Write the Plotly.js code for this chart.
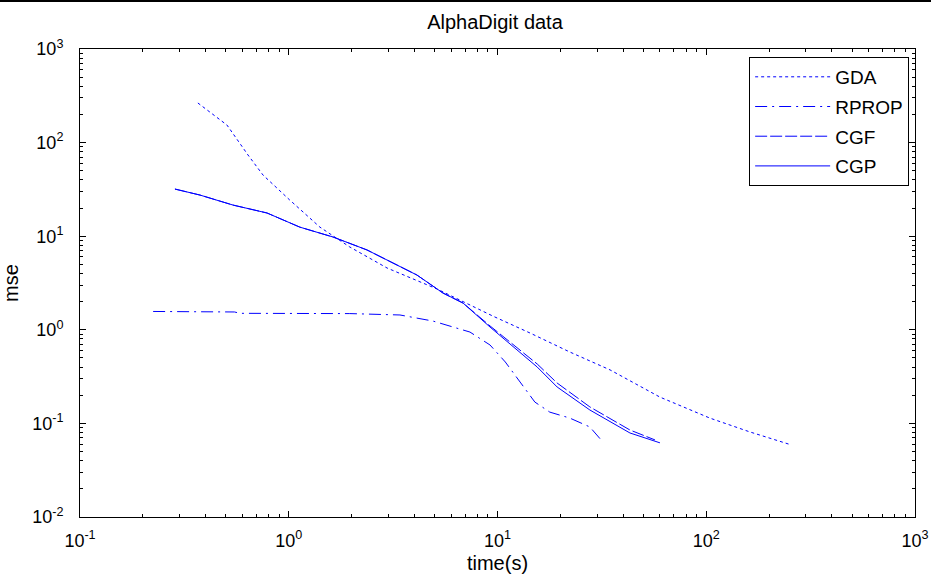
<!DOCTYPE html>
<html>
<head>
<meta charset="utf-8">
<script src="https://cdn.plot.ly/plotly-3.0.1.min.js"></script>
<style>
html,body{margin:0;padding:0;background:#fff;}
#chart{width:931px;height:580px;box-sizing:border-box;border-top:2px solid #000;}
</style>
</head>
<body>
<div id="chart"></div>
<script>
// GDA (dotted)
const gdaTime = [0.367, 0.506, 0.638, 0.753, 1.01, 1.41, 1.96, 2.96, 5.13, 9.51, 14.3, 22.2, 34.6, 60, 104, 162, 249];
const gdaMse  = [265, 154, 73.7, 45, 24.4, 12.5, 7.67, 4.57, 2.73, 1.40, 0.925, 0.579, 0.373, 0.191, 0.114, 0.081, 0.060];

// RPROP (dash-dot)
const rpropTime = [0.224, 0.55, 0.584, 1.01, 1.96, 3.41, 4.91, 7.38, 9.21, 10.9, 12.8, 15.1, 17.8, 22.2, 27.7, 32.0];
const rpropMse  = [1.57, 1.55, 1.50, 1.50, 1.49, 1.44, 1.24, 0.946, 0.688, 0.453, 0.277, 0.169, 0.132, 0.114, 0.0916, 0.0632];

// CGF (long dash)
const cgfTime = [0.285, 0.376, 0.541, 0.787, 1.13, 1.63, 2.37, 3.34, 4.11, 5.48, 6.84, 9.21, 12.4, 15.5, 19.3, 23.0, 27.7, 43.1, 56.8];
const cgfMse  = [31.9, 27.5, 21.5, 17.7, 12.5, 9.8, 7.13, 4.81, 3.85, 2.47, 1.93, 1.10, 0.64, 0.431, 0.270, 0.201, 0.150, 0.085, 0.0666];

// CGP (solid)
const cgpTime = [0.285, 0.376, 0.541, 0.787, 1.13, 1.63, 2.37, 3.34, 4.11, 5.48, 6.84, 9.21, 12.4, 15.5, 19.3, 23.0, 27.7, 43.1, 60.0];
const cgpMse  = [31.9, 27.5, 21.5, 17.7, 12.5, 9.8, 7.13, 4.81, 3.85, 2.47, 1.93, 1.07, 0.608, 0.40, 0.245, 0.187, 0.139, 0.079, 0.062];

// Tick labels
const xTickVals = [0.1, 1, 10, 100, 1000];
const xTickText = ['10<sup>-1</sup>', '10<sup>0</sup>', '10<sup>1</sup>', '10<sup>2</sup>', '10<sup>3</sup>'];
const yTickVals = [0.01, 0.1, 1, 10, 100, 1000];
const yTickText = ['10<sup>-2</sup>', '10<sup>-1</sup>', '10<sup>0</sup>', '10<sup>1</sup>', '10<sup>2</sup>', '10<sup>3</sup>'];

const names = ['GDA', 'RPROP', 'CGF', 'CGP'];
const dashes = ['3px,3px', '12px,5px,2px,5px', '12px,3px', 'solid'];
const xs = [gdaTime, rpropTime, cgfTime, cgpTime];
const ys = [gdaMse, rpropMse, cgfMse, cgpMse];

function minorVals(lo, hi) {
  const v = [];
  for (let p = lo; p < hi; p++) for (let m = 2; m <= 9; m++) v.push(m * Math.pow(10, p));
  return v;
}

const font = 'Liberation Sans, Arial, sans-serif';
const traces = names.map((n, i) => ({
  x: xs[i], y: ys[i], name: n, type: 'scatter', mode: 'lines',
  legendgroup: n,
  line: {color: '#0000ff', width: 1, dash: dashes[i]}
}));

function axis(vals, text, minor, range, extra) {
  return Object.assign({
    type: 'log', range: range, tickmode: 'array', tickvals: vals, ticktext: text,
    showgrid: false, zeroline: false, automargin: false,
    showline: true, linecolor: '#000', linewidth: 1, mirror: 'allticks',
    ticks: 'inside', ticklen: 6, tickcolor: '#000', tickwidth: 1,
    minor: {tickmode: 'array', tickvals: minor, ticks: 'inside', ticklen: 3, tickcolor: '#000', tickwidth: 1, showgrid: false},
    tickfont: {family: font, size: 18, color: '#000'}
  }, extra);
}

const layout = {
  width: 931, height: 578,
  margin: {l: 80, r: 16, t: 47, b: 63},
  paper_bgcolor: '#fff', plot_bgcolor: '#fff',
  font: {family: font, size: 18, color: '#000'},
  title: {text: 'AlphaDigit data', font: {family: font, size: 20, color: '#000'}, x: 0.497, xref: 'paper', xanchor: 'center', y: 0.965, yanchor: 'middle'},
  xaxis: axis(xTickVals, xTickText, minorVals(-1, 3), [-1, 3], {ticklabelstandoff: 7, title: {text: 'time(s)', font: {family: font, size: 20}, standoff: 6}}),
  yaxis: axis(yTickVals, yTickText, minorVals(-2, 3), [-2, 3], {ticklabelstandoff: 12, title: {text: 'mse', font: {family: font, size: 20}, standoff: 8}}),
  showlegend: true,
  legend: {
    x: 0.993, xanchor: 'right', y: 0.983, yanchor: 'top',
    bgcolor: '#fff', bordercolor: '#000', borderwidth: 1,
    font: {family: font, size: 19, color: '#000'},
    traceorder: 'grouped', tracegroupgap: 2,
    itemwidth: 75
  }
};

Plotly.newPlot('chart', traces, layout, {displayModeBar: false, staticPlot: true});
</script>
</body>
</html>
